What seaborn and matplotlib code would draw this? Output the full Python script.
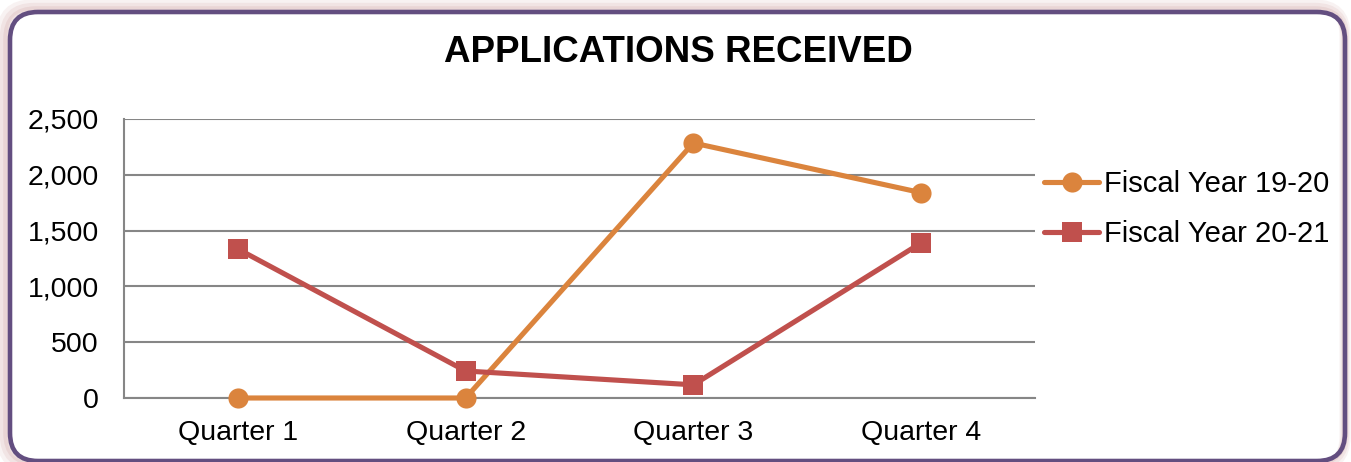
import matplotlib
matplotlib.use("Agg")
import matplotlib.pyplot as plt
import seaborn as sns
import pandas as pd
from matplotlib.patches import FancyBboxPatch
from matplotlib.ticker import FuncFormatter

categories = ["Quarter 1", "Quarter 2", "Quarter 3", "Quarter 4"]
series_names = ["Fiscal Year 19-20", "Fiscal Year 20-21"]
fy1920 = [0, 0, 2285, 1840]
fy2021 = [1335, 242, 118, 1390]
y_ticks = [0, 500, 1000, 1500, 2000, 2500]
title = "APPLICATIONS RECEIVED"

df = pd.DataFrame({
    "Quarter": categories * 2,
    "Value": fy1920 + fy2021,
    "Series": [series_names[0]] * 4 + [series_names[1]] * 4,
})

sns.set_style("white")
plt.rcParams["font.family"] = ["Liberation Sans", "DejaVu Sans"]
plt.rcParams["text.color"] = "black"

fig = plt.figure(figsize=(13.51, 4.62), dpi=100)
ax = fig.add_axes([124 / 1351, 1 - 398 / 462, (1035 - 124) / 1351, (398 - 119) / 462])

palette = {series_names[0]: "#DB843D", series_names[1]: "#C0504D"}
markers = {series_names[0]: "o", series_names[1]: "s"}
sns.lineplot(data=df, x="Quarter", y="Value", hue="Series", style="Series",
             palette=palette, markers=markers, dashes=False, linewidth=3.7,
             markersize=14.5, markeredgewidth=0, ax=ax, sort=False, zorder=3,
             clip_on=False)

ax.set_xlim(-0.5, 3.5)
ax.set_ylim(0, 2500)
ax.set_yticks(y_ticks)
ax.yaxis.set_major_formatter(FuncFormatter(lambda v, p: f"{int(v):,}"))
ax.grid(axis="y", color="#868686", linewidth=1.5)
ax.set_axisbelow(True)
for s in ["top", "right"]:
    ax.spines[s].set_visible(False)
ax.spines["left"].set_color("#868686")
ax.spines["left"].set_linewidth(1.5)
ax.spines["bottom"].set_color("#868686")
ax.spines["bottom"].set_linewidth(1.5)
ax.tick_params(axis="both", length=0, labelsize=20.5, colors="black")
ax.tick_params(axis="y", pad=18)
ax.tick_params(axis="x", pad=16)
ax.set_xlabel("")
ax.set_ylabel("")

handles, labels = ax.get_legend_handles_labels()
for h in handles:
    h.set_linewidth(3.7)
    h.set_markersize(14.5)
ax.legend(handles, labels, loc="center left", bbox_to_anchor=(1044 / 1351, 1 - 209 / 462),
          bbox_transform=fig.transFigure, frameon=False, fontsize=21,
          handlelength=1.9, handletextpad=0.15, labelspacing=0.75, borderaxespad=0,
          borderpad=0)

fig.text(678 / 1351, 1 - 53 / 462, title, ha="center", va="center",
         fontsize=26.5, fontweight="bold", color="black")

# shadow and frame
for i, a in enumerate([0.10, 0.12, 0.15]):
    off = 6 - i * 2
    sh = FancyBboxPatch((8 - off, 1 - off), 1337 + off, 450 + off * 2,
                        boxstyle="round,pad=0,rounding_size=30",
                        transform=None, facecolor="none", edgecolor="#C08080",
                        linewidth=2 + off, alpha=a, zorder=0)
    fig.patches.append(sh)
frame = FancyBboxPatch((10, 1), 1335, 449, boxstyle="round,pad=0,rounding_size=28",
                       transform=None, facecolor="none", edgecolor="#634E80",
                       linewidth=3.3, zorder=5)
fig.patches.append(frame)

fig.savefig("out.png", dpi=100)
